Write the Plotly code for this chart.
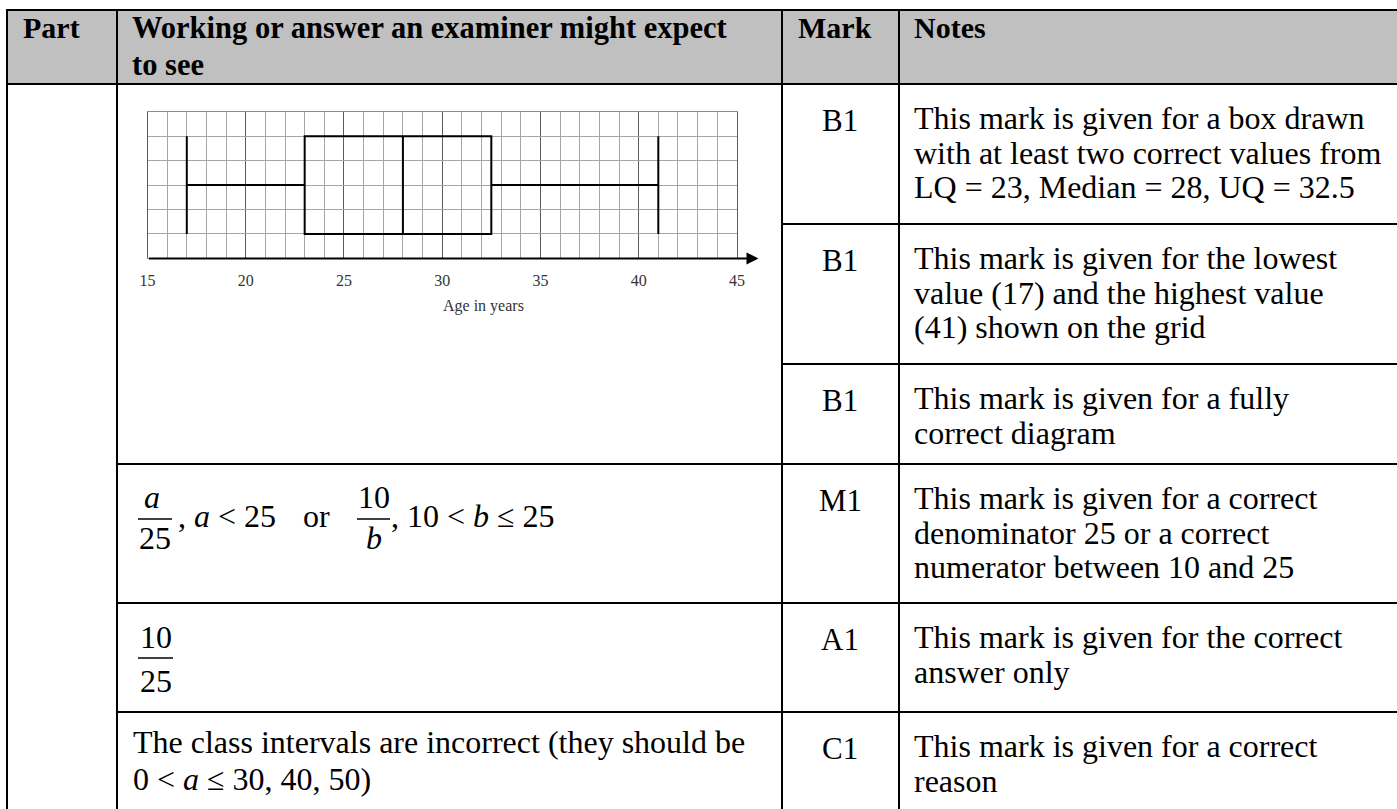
import plotly.graph_objects as go

# ---------------- data ----------------
min_age = [17]
lower_quartile = [23]
median_age = [28]
upper_quartile = [32.5]
max_age = [41]
box_position = [3]
tick_values = [15, 20, 25, 30, 35, 40, 45]
tick_labels = ["15", "20", "25", "30", "35", "40", "45"]
axis_title = "Age in years"

header_labels = ["Part", "Working or answer an examiner might expect", "to see", "Mark", "Notes"]
mark_codes = ["B1", "B1", "B1", "M1", "A1", "C1"]
notes_lines = [
    ["This mark is given for a box drawn", "with at least two correct values from", "LQ = 23, Median = 28, UQ = 32.5"],
    ["This mark is given for the lowest", "value (17) and the highest value", "(41) shown on the grid"],
    ["This mark is given for a fully", "correct diagram"],
    ["This mark is given for a correct", "denominator 25 or a correct", "numerator between 10 and 25"],
    ["This mark is given for the correct", "answer only"],
    ["This mark is given for a correct", "reason"],
]
last_working = ["The class intervals are incorrect (they should be", "0 &lt; <i>a</i> ≤ 30, 40, 50)"]

# ---------------- layout geometry (pixels) ----------------
W, H = 1397, 809
SERIF = "Liberation Serif"


def X(px):
    return px / W


def Y(py):
    return 1 - py / H


annotations = []
shapes = []


def text(x, baseline, s, size=32, xanchor="left", color="black"):
    yc = baseline - 0.34 * size
    annotations.append(dict(
        x=X(x), y=Y(yc), xref="paper", yref="paper", text=s, showarrow=False,
        xanchor=xanchor, yanchor="middle", borderpad=0,
        font=dict(family=SERIF, size=size, color=color)))


def hline(x0, x1, y, w=2, color="black"):
    shapes.append(dict(type="line", xref="paper", yref="paper", x0=X(x0), x1=X(x1),
                       y0=Y(y), y1=Y(y), line=dict(color=color, width=w)))


def vline(x, y0, y1, w=2, color="black"):
    shapes.append(dict(type="line", xref="paper", yref="paper", x0=X(x), x1=X(x),
                       y0=Y(y0), y1=Y(y1), line=dict(color=color, width=w)))


# table frame
TOP, HEAD_BOT = 10, 84
LEFT, C1, C2, C3, RIGHT = 7, 117, 782, 899, 1400
row_tops = [84, 224, 364, 464, 603, 712]

shapes.append(dict(type="rect", xref="paper", yref="paper", x0=X(LEFT), x1=X(RIGHT),
                   y0=Y(HEAD_BOT), y1=Y(TOP), fillcolor="#c0c0c0", line=dict(width=0), layer="below"))
hline(LEFT - 1, RIGHT, TOP)
hline(LEFT - 1, RIGHT, HEAD_BOT)
for xx in (LEFT, C1, C2, C3):
    vline(xx, TOP - 1, H + 5)
for yy in (224, 364):
    hline(C2, RIGHT, yy)
for yy in (464, 603, 712):
    hline(C1, RIGHT, yy)

# header text
text(22, 38, "<b>%s</b>" % header_labels[0], size=30)
text(131, 38, "<b>%s</b>" % header_labels[1], size=30.5)
text(131, 75, "<b>%s</b>" % header_labels[2], size=30.5)
text(797, 38, "<b>%s</b>" % header_labels[3], size=30)
text(913, 38, "<b>%s</b>" % header_labels[4], size=30)

# marks and notes
for top, code, lines in zip(row_tops, mark_codes, notes_lines):
    text(840, top + 47, code, size=31, xanchor="center")
    for i, ln in enumerate(lines):
        text(913, top + 45 + 34.5 * i, ln, size=32)

# working column: fractions row
text(151.5, 508, "<i>a</i>", size=32, xanchor="center")
hline(138, 172, 519, w=1.5)
text(155, 549, "25", size=32, xanchor="center")
text(177, 527, ", <i>a</i> &lt; 25", size=32)
text(302, 527, "or", size=32)
text(374, 508, "10", size=32, xanchor="center")
hline(357, 390, 519, w=1.5)
text(374, 549, "<i>b</i>", size=32, xanchor="center")
text(390, 527, ", 10 &lt; <i>b</i> ≤ 25", size=32)

# answer fraction
text(156, 648, "10", size=32, xanchor="center")
hline(138, 173, 658, w=1.5)
text(156, 692, "25", size=32, xanchor="center")

# last row
text(132, 753, last_working[0], size=32)
text(132, 790, last_working[1], size=32)

# ---------------- box plot ----------------
GX0, GX1 = 147.5, 736.9      # x = 15 .. 45
GY0, GY1 = 258.4, 111.8      # y = 0 .. 6

fig = go.Figure()
fig.add_trace(go.Box(
    orientation="h", y=box_position, q1=lower_quartile, median=median_age, q3=upper_quartile,
    lowerfence=min_age, upperfence=max_age, width=4, whiskerwidth=1,
    line=dict(color="black", width=2), fillcolor="rgba(0,0,0,0)",
    boxpoints=False, hoverinfo="skip", showlegend=False))

# axis line with arrow
annotations.append(dict(x=46.1, y=0, ax=15, ay=0, xref="x", yref="y", axref="x", ayref="y",
                        text="", showarrow=True, arrowhead=2, arrowsize=1.2, arrowwidth=2,
                        arrowcolor="black", standoff=0))
text(483.5, 311, axis_title, size=16, xanchor="center", color="#333")

fig.update_layout(
    width=W, height=H, margin=dict(l=0, r=0, t=0, b=0, autoexpand=False),
    paper_bgcolor="white", plot_bgcolor="white", showlegend=False,
    shapes=shapes, annotations=annotations,
    xaxis=dict(domain=[X(GX0), X(GX1)], range=[15, 45], tickmode="array",
               tickvals=tick_values, ticktext=tick_labels, showgrid=True,
               gridcolor="#5c5c5c", gridwidth=1, zeroline=False,
               showline=True, mirror=True, linecolor="#8c8c8c", linewidth=1,
               ticks="", ticklabelstandoff=7,
               tickfont=dict(family=SERIF, size=16, color="#333"),
               minor=dict(dtick=1, showgrid=True, gridcolor="#a6a6a6", gridwidth=1),
               fixedrange=True),
    yaxis=dict(domain=[Y(GY0), Y(GY1)], range=[0, 6], dtick=1, showgrid=True,
               gridcolor="#a6a6a6", gridwidth=1, zeroline=False, showticklabels=False,
               ticks="", showline=True, mirror=True, linecolor="#5c5c5c", linewidth=1,
               fixedrange=True),
)

fig.write_html("out.html", config={"displayModeBar": False},
               post_script="document.documentElement.style.overflow='hidden';"
                           "document.body.style.margin='0';document.body.style.overflow='hidden';")
